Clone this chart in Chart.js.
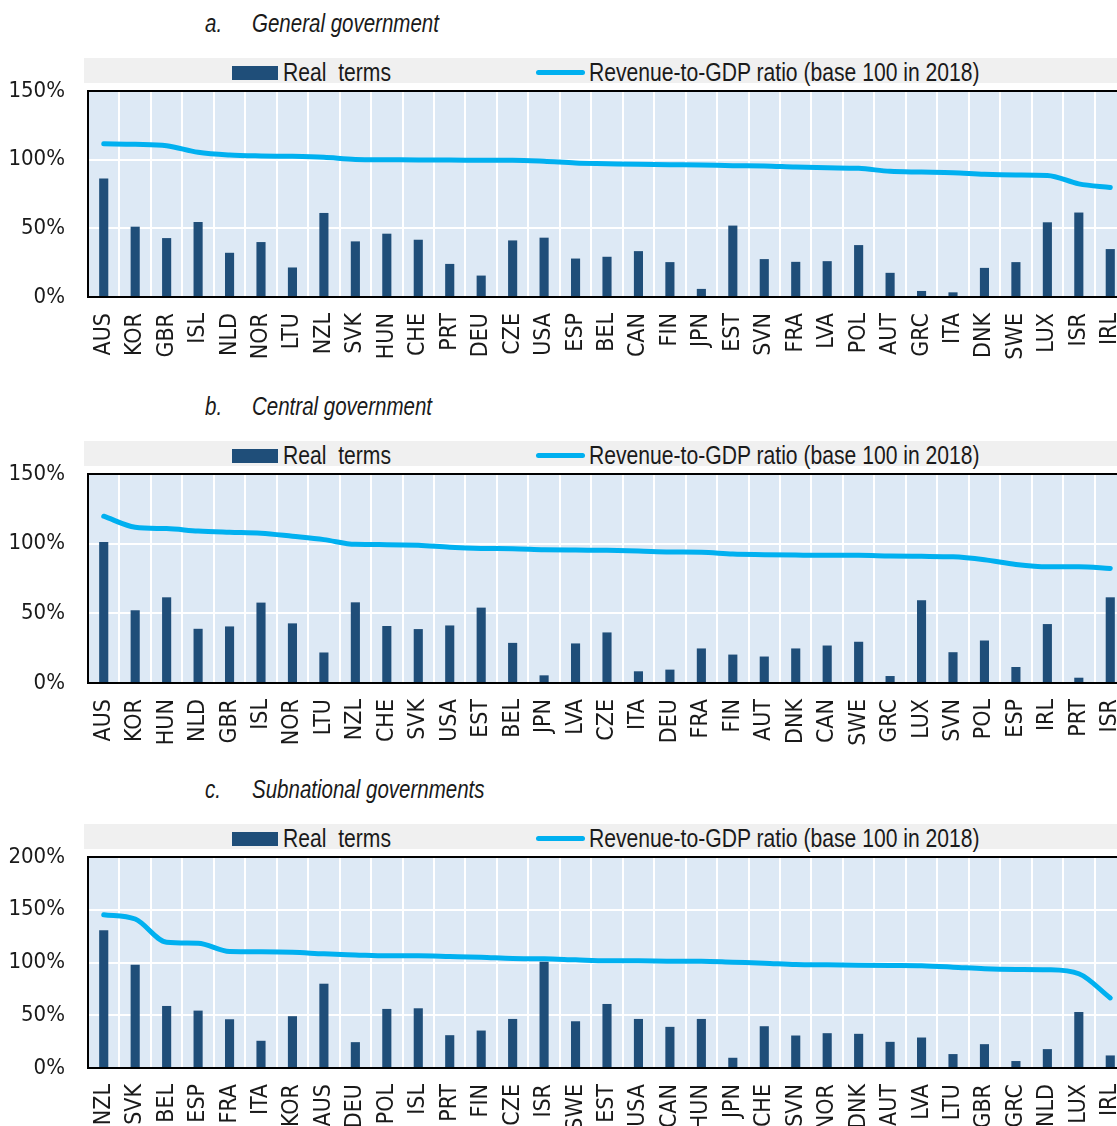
<!DOCTYPE html>
<html>
<head>
<meta charset="utf-8">
<script src="https://cdn.jsdelivr.net/npm/chart.js@4.4.1/dist/chart.umd.min.js"></script>
<style>
  html, body { margin: 0; padding: 0; background: #fff; overflow: hidden; }
  #page {
    position: relative; width: 1117px; height: 1126px; overflow: hidden;
    font-family: "Liberation Sans", Arial, sans-serif;
    color: #1a1a1a;
  }
  /* Liberation Sans squeezed to the width of a narrow face */
  .abs { position: absolute; white-space: pre; font-size: 25px; line-height: 30px; transform: scaleX(0.82); transform-origin: 0 0; }
  .title { font-style: italic; }
  .leg { transform: scaleX(0.845); }
  .band { position: absolute; width: 1040px; height: 25px; background: #f0f0f0; }
  .swatchBar { position: absolute; width: 46px; height: 14px; background: #1f4e79; }
  .swatchLine { position: absolute; width: 49px; height: 5px; border-radius: 2.5px; background: #00b0f0; }
  canvas { position: absolute; left: 0; display: block; }
</style>
</head>
<body>
<div id="page"></div>
<script>
// a. General government
const catsA = ['AUS','KOR','GBR','ISL','NLD','NOR','LTU','NZL','SVK','HUN','CHE','PRT','DEU','CZE','USA','ESP','BEL','CAN','FIN','JPN','EST','SVN','FRA','LVA','POL','AUT','GRC','ITA','DNK','SWE','LUX','ISR','IRL'];
const realA = [86.3, 51.2, 42.9, 54.6, 32.2, 40.0, 21.5, 61.2, 40.5, 46.1, 41.7, 24.1, 15.6, 41.2, 43.2, 28.0, 29.3, 33.4, 25.4, 5.9, 52.0, 27.6, 25.6, 26.1, 37.8, 17.6, 4.4, 3.4, 21.2, 25.4, 54.4, 61.5, 34.9];
const ratioA = [111.5, 111.2, 110.2, 105.4, 103.4, 102.7, 102.4, 101.7, 100.2, 100.0, 99.8, 99.8, 99.5, 99.5, 98.8, 97.6, 97.1, 96.6, 96.3, 96.1, 95.6, 95.4, 94.6, 94.1, 93.7, 91.5, 91.0, 90.5, 89.3, 88.8, 88.5, 82.4, 79.8];

// b. Central government
const catsB = ['AUS','KOR','HUN','NLD','GBR','ISL','NOR','LTU','NZL','CHE','SVK','USA','EST','BEL','JPN','LVA','CZE','ITA','DEU','FRA','FIN','AUT','DNK','CAN','SWE','GRC','LUX','SVN','POL','ESP','IRL','PRT','ISR'];
const realB = [101.2, 52.2, 61.5, 38.9, 40.6, 57.7, 42.8, 21.9, 57.9, 40.9, 38.7, 41.3, 54.1, 28.8, 5.5, 28.4, 36.3, 8.4, 9.6, 24.8, 20.4, 19.0, 24.8, 26.9, 29.6, 5.0, 59.4, 22.1, 30.5, 11.5, 42.3, 3.8, 61.5];
const ratioB = [119.7, 111.8, 110.8, 109.1, 108.2, 107.5, 105.3, 102.9, 99.5, 99.3, 98.8, 97.4, 96.6, 96.4, 95.7, 95.4, 95.2, 94.7, 94.0, 93.8, 92.5, 92.1, 91.8, 91.6, 91.6, 91.1, 90.9, 90.6, 88.5, 85.1, 83.4, 83.4, 82.2];

// c. Subnational governments
const catsC = ['NZL','SVK','BEL','ESP','FRA','ITA','KOR','AUS','DEU','POL','ISL','PRT','FIN','CZE','ISR','SWE','EST','USA','CAN','HUN','JPN','CHE','SVN','NOR','DNK','AUT','LVA','LTU','GBR','GRC','NLD','LUX','IRL'];
const realC = [130.5, 97.8, 58.8, 54.4, 46.2, 25.8, 49.1, 79.9, 24.5, 56.0, 56.6, 31.1, 35.5, 46.5, 100.6, 44.3, 60.7, 46.5, 39.0, 46.5, 9.7, 39.6, 30.8, 33.0, 32.4, 24.8, 28.9, 13.2, 22.6, 6.6, 17.9, 53.1, 11.9];
const ratioC = [145.3, 141.2, 119.2, 118.2, 110.4, 110.1, 109.7, 108.2, 107.2, 106.3, 106.3, 105.7, 105.0, 103.8, 103.5, 102.5, 101.6, 101.6, 101.3, 101.3, 100.3, 99.4, 98.1, 97.8, 97.5, 97.2, 96.9, 95.6, 94.0, 93.4, 93.1, 89.3, 66.4];

const realLabel = 'Real  terms';
const ratioLabel = 'Revenue-to-GDP ratio (base 100 in 2018)';

const FONT = '"DejaVu Sans Condensed", "Liberation Sans", sans-serif';
const TEXT = '#1a1a1a';
const BAR = '#1f4e79';
const LINE = '#00b0f0';
const PLOT_BG = '#dde9f5';

const PAD_TOP = 20;
const X_AXIS_H = 90;

// paints the plot background and the top frame line
const framePlugin = {
    id: 'frame',
    beforeDraw(chart) {
        const a = chart.chartArea;
        const ctx = chart.ctx;
        ctx.save();
        ctx.fillStyle = PLOT_BG;
        ctx.fillRect(a.left, a.top, a.right - a.left, a.bottom - a.top);
        ctx.restore();
    },
    afterDraw(chart) {
        const a = chart.chartArea;
        const ctx = chart.ctx;
        ctx.save();
        ctx.strokeStyle = '#000';
        ctx.lineWidth = 2;
        ctx.beginPath();
        ctx.moveTo(a.left - 1, a.top);
        ctx.lineTo(a.right, a.top);
        ctx.stroke();
        ctx.restore();
    }
};

const page = document.getElementById('page');

function addText(cls, text, left, top) {
    const el = document.createElement('div');
    el.className = 'abs ' + cls;
    el.textContent = text;
    el.style.left = left + 'px';
    el.style.top = top + 'px';
    page.appendChild(el);
}

function addBox(cls, left, top) {
    const el = document.createElement('div');
    el.className = cls;
    el.style.left = left + 'px';
    el.style.top = top + 'px';
    page.appendChild(el);
}

function makePanel(letter, title, cats, real, ratio, yMax, offset, plotH) {
    // title
    addText('title', letter, 205, offset + 8);
    addText('title', title, 252, offset + 8);

    // legend band
    addBox('band', 84, offset + 58);
    addBox('swatchBar', 232, offset + 66);
    addText('leg', realLabel, 283, offset + 57);
    addBox('swatchLine', 536, offset + 70);
    addText('leg', ratioLabel, 589, offset + 57);

    const plotTop = offset + 91;
    const canvas = document.createElement('canvas');
    canvas.width = 1126;
    canvas.height = PAD_TOP + plotH + X_AXIS_H;
    canvas.style.top = (plotTop - PAD_TOP) + 'px';
    page.appendChild(canvas);

    new Chart(canvas.getContext('2d'), {
        data: {
            labels: cats,
            datasets: [
                {
                    type: 'line',
                    label: ratioLabel,
                    data: ratio,
                    borderColor: LINE,
                    borderWidth: 5,
                    borderCapStyle: 'round',
                    pointRadius: 0,
                    cubicInterpolationMode: 'monotone',
                    order: 0
                },
                {
                    type: 'bar',
                    label: realLabel,
                    data: real,
                    backgroundColor: BAR,
                    barPercentage: 0.29,
                    categoryPercentage: 1,
                    order: 1
                }
            ]
        },
        options: {
            responsive: false,
            animation: false,
            layout: { padding: { top: PAD_TOP, left: 0, right: 0, bottom: 0 } },
            plugins: { legend: { display: false }, tooltip: { enabled: false } },
            scales: {
                x: {
                    grid: { color: '#fff', lineWidth: 2, drawTicks: false, offset: true },
                    border: { color: '#000', width: 2 },
                    ticks: {
                        font: { size: 23, family: FONT },
                        color: TEXT,
                        padding: 16,
                        minRotation: 90,
                        maxRotation: 90,
                        autoSkip: false
                    },
                    afterFit(s) {
                        s.height = X_AXIS_H;
                        s.paddingLeft = 0;
                        s.paddingRight = 0;
                    }
                },
                y: {
                    min: 0,
                    max: yMax,
                    grid: { color: '#fff', lineWidth: 2, drawTicks: false },
                    border: { color: '#000', width: 2 },
                    ticks: {
                        stepSize: 50,
                        callback: v => v + '%',
                        font: { size: 22, family: FONT },
                        color: TEXT,
                        padding: 23
                    },
                    afterFit(s) {
                        s.width = 88;
                        s.paddingTop = 0;
                        s.paddingBottom = 0;
                    }
                }
            }
        },
        plugins: [framePlugin]
    });
}

makePanel('a.', 'General government', catsA, realA, ratioA, 150, 0, 206);
makePanel('b.', 'Central government', catsB, realB, ratioB, 150, 383, 209);
makePanel('c.', 'Subnational governments', catsC, realC, ratioC, 200, 766, 211);
</script>
</body>
</html>
